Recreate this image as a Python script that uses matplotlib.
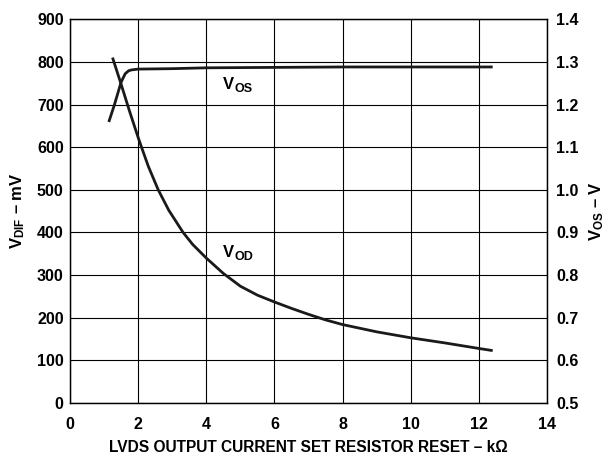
import matplotlib
matplotlib.use("Agg")
import matplotlib.pyplot as plt

plt.rcParams['font.family'] = ['Liberation Sans', 'DejaVu Sans']
plt.rcParams['font.weight'] = 'bold'
plt.rcParams['axes.labelweight'] = 'bold'
plt.rcParams['mathtext.fontset'] = 'custom'
plt.rcParams['mathtext.rm'] = 'Liberation Sans:bold'
plt.rcParams['mathtext.bf'] = 'Liberation Sans:bold'
plt.rcParams['mathtext.it'] = 'Liberation Sans:bold'
plt.rcParams['mathtext.default'] = 'bf'

# V_OD (left axis, mV) vs resistor (kOhm)
vod_x = [1.25, 1.5, 1.75, 2.0, 2.1, 2.3, 2.59, 2.9, 3.32, 3.6, 4.0, 4.5, 5.0, 5.5, 6.0, 6.5, 7.0, 7.5, 8.0, 9.0, 10.0, 11.0, 12.0, 12.4]
vod_y = [810, 748, 684, 623, 600, 555, 500, 452, 400, 372, 340, 304, 274, 253, 237, 222, 208, 195, 184, 167, 153, 141, 128, 123]

# V_OS (right axis, V)
vos_x = [1.14, 1.3, 1.5, 1.62, 1.72, 1.8, 2.0, 3.0, 4.0, 6.0, 8.0, 10.0, 12.4]
vos_y = [1.159, 1.198, 1.252, 1.272, 1.279, 1.281, 1.283, 1.284, 1.286, 1.287, 1.288, 1.288, 1.288]

x_ticks = [0, 2, 4, 6, 8, 10, 12, 14]
left_ticks = [0, 100, 200, 300, 400, 500, 600, 700, 800, 900]
right_ticks = [0.5, 0.6, 0.7, 0.8, 0.9, 1.0, 1.1, 1.2, 1.3, 1.4]

fig = plt.figure(figsize=(6.08, 4.57), dpi=100)
ax = fig.add_axes([0.115, 0.118, 0.785, 0.840])
ax2 = ax.twinx()

ax.set_xlim(0, 14)
ax.set_ylim(0, 900)
ax2.set_ylim(0.5, 1.4)
ax.set_xticks(x_ticks)
ax.set_yticks(left_ticks)
ax2.set_yticks(right_ticks)
ax2.set_yticklabels([f"{v:.1f}" for v in right_ticks])

ax.grid(True, color='black', linewidth=0.8)
ax.set_axisbelow(True)
ax.tick_params(axis='y', length=0, labelsize=11.5, pad=4.5)
ax.tick_params(axis='x', length=0, labelsize=11.5, pad=10)
ax2.tick_params(axis='y', length=0, labelsize=11.5, pad=6.5)
for a in (ax, ax2):
    for s in a.spines.values():
        s.set_linewidth(0.9)

ax.plot(vod_x, vod_y, color='#1a1a1a', linewidth=2.0, solid_capstyle='butt')
ax2.plot(vos_x, vos_y, color='#1a1a1a', linewidth=2.0, solid_capstyle='butt')

# in-plot curve labels: "V" with subscript drawn as a separate text
for (lx, ly, sub) in [(4.5, 747, 'OS'), (4.5, 354, 'OD')]:
    ax.text(lx, ly, 'V', fontsize=12, fontweight='bold', ha='left', va='center')
    ax.annotate(sub, xy=(lx, ly), xytext=(8.3, -3.5), textcoords='offset points',
                fontsize=9, fontweight='bold', ha='left', va='center')

ax.set_xlabel('LVDS OUTPUT CURRENT SET RESISTOR RESET – kΩ', fontsize=11.2, fontweight='bold', labelpad=6)
ax.set_ylabel(r'V$_{\mathbf{DIF}}$ – mV', fontsize=12, fontweight='bold', labelpad=7)
ax2.set_ylabel(r'V$_{\mathbf{OS}}$ – V', fontsize=12, fontweight='bold', labelpad=6)

fig.savefig('out.png', dpi=100)
